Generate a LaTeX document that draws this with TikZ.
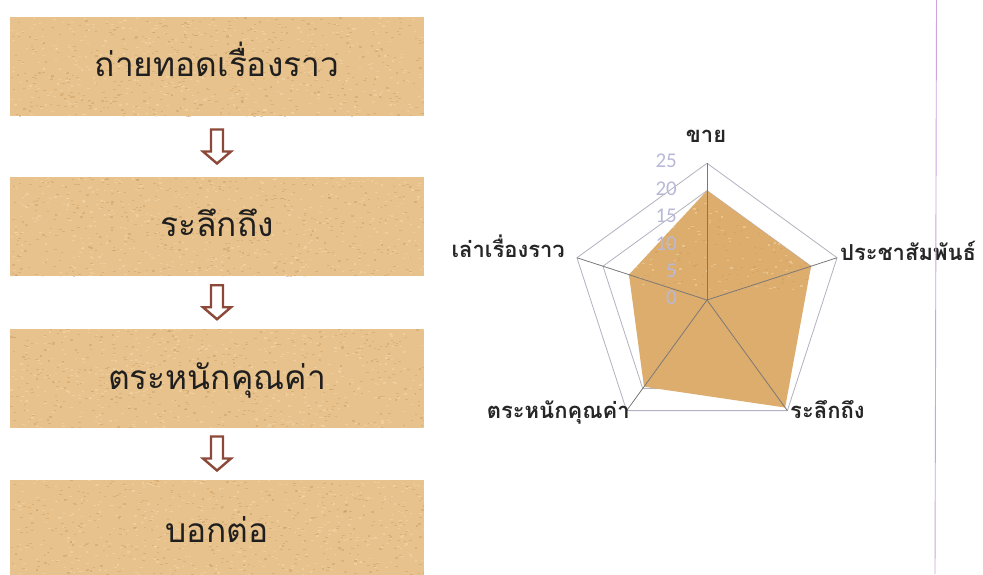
\documentclass[tikz,border=0pt]{standalone}
\usepackage{fontspec}
\newfontfamily\thaifont[Script=Thai]{Loma}
\newfontfamily\numfont{Carlito}
\usetikzlibrary{calc}
\definecolor{boxtan}{RGB}{232,194,140}
\definecolor{boxdark}{RGB}{200,155,95}
\definecolor{boxlight}{RGB}{248,222,180}
\definecolor{charttan}{RGB}{220,173,108}
\definecolor{arrowbrown}{RGB}{140,72,56}
\definecolor{gridgray}{RGB}{178,178,192}
\definecolor{spokegray}{RGB}{125,120,120}
\definecolor{ticklav}{RGB}{185,185,215}
\definecolor{rulepurple}{RGB}{205,165,220}
\pgfmathsetseed{7}
\tikzset{
  grain/.style={path picture={
    \foreach \i in {1,...,#1}{
      \pgfmathsetmacro\rx{rnd}\pgfmathsetmacro\ry{rnd}
      \fill[boxdark, opacity=0.45] ($(path picture bounding box.north west)!\rx!(path picture bounding box.north east)+(0,{\ry*100})$) rectangle ++(2.5,1.2);
      \pgfmathsetmacro\sx{rnd}\pgfmathsetmacro\sy{rnd}
      \fill[boxlight, opacity=0.45] ($(path picture bounding box.north west)!\sx!(path picture bounding box.north east)+(0,{\sy*100})$) rectangle ++(2.5,1.2);
    }}},
  stepbox/.style={fill=boxtan, minimum width=414pt, minimum height=99pt, inner sep=0pt, grain=450},
  steptext/.style={font=\thaifont\fontsize{33.5}{40}\selectfont, text=black!88, inner sep=0pt, anchor=base},
  blockarrow/.style={draw=arrowbrown, line width=2.4pt, fill=white, line join=miter},
  gridline/.style={draw=gridgray, line width=0.8pt},
  spoke/.style={draw=spokegray, line width=0.8pt},
  chartlabel/.style={font=\thaifont\bfseries\fontsize{22}{26}\selectfont, text=black!85, inner sep=0pt},
  ticklabel/.style={font=\numfont\fontsize{21}{24}\selectfont, text=ticklav, inner sep=0pt},
}
\begin{document}
\begin{tikzpicture}[x=1pt,y=-1pt]
\useasboundingbox (0,0) rectangle (983,574);
\fill[white] (0,0) rectangle (983,574);

% flow boxes
\node[stepbox] (b1) at (217,66.5) {};
\node[stepbox] (b2) at (217,226.5) {};
\node[stepbox] (b3) at (217,378) {};
\node[stepbox] (b4) at (217,529) {};
\node[steptext] (b1t) at ($(b1.center)+(0,10)$) {ถ่ายทอดเรื่องราว};
\node[steptext] (b2t) at ($(b2.center)+(0,10)$) {ระลึกถึง};
\node[steptext] (b3t) at ($(b3.center)+(0,11)$) {ตระหนักคุณค่า};
\node[steptext] (b4t) at ($(b4.center)+(0,13)$) {บอกต่อ};

\coordinate (a1) at ($(b1.south)!0.5!(b2.north)$);
\coordinate (a2) at ($(b2.south)!0.5!(b3.north)$);
\coordinate (a3) at ($(b3.south)!0.5!(b4.north)$);
\foreach \a in {a1,a2,a3}{
  \draw[blockarrow, shift={(\a)}] (-6,-17) -- (6,-17) -- (6,5) -- (14,5) -- (0,17) -- (-14,5) -- (-6,5) -- cycle;
}

% radar chart
\coordinate (c) at (707,300);
\def\u{5.47}
\foreach \v in {5,10,15,20,25}{
  \draw[gridline, shift={(c)}] (-90:\v*\u) -- (-18:\v*\u) -- (54:\v*\u) -- (126:\v*\u) -- (198:\v*\u) -- cycle;
}
\fill[charttan, shift={(c)}, grain=120] (-90:20*\u) -- (-18:20*\u) -- (54:24.3*\u) -- (126:19.6*\u) -- (198:15*\u) -- cycle;
\foreach \a/\n in {-90/p1,-18/p2,54/p3,126/p4,198/p5}{
  \coordinate (\n) at ($(c)+(\a:25*\u)$);
  \draw[spoke] (c) -- (\n);
}
\foreach \v in {0,5,...,25}{
  \node[ticklabel, anchor=east] (t\v) at (677,{298-\v*\u}) {\v};
}

\node[chartlabel, anchor=base] (lk) at (706,142) {ขาย};
\node[chartlabel, anchor=base west] (lp) at (840,260) {ประชาสัมพันธ์};
\node[chartlabel, anchor=base west] (lr) at (790,418) {ระลึกถึง};
\node[chartlabel, anchor=base east] (lt) at (630,418) {ตระหนักคุณค่า};
\node[chartlabel, anchor=base east] (ll) at (565,257) {เล่าเรื่องราว};

% right margin rule
\coordinate (rt) at (936.5,0);
\coordinate (rb) at (935,574);
\draw[rulepurple, line width=0.9pt] (rt) -- (rb);
\end{tikzpicture}
\end{document}
